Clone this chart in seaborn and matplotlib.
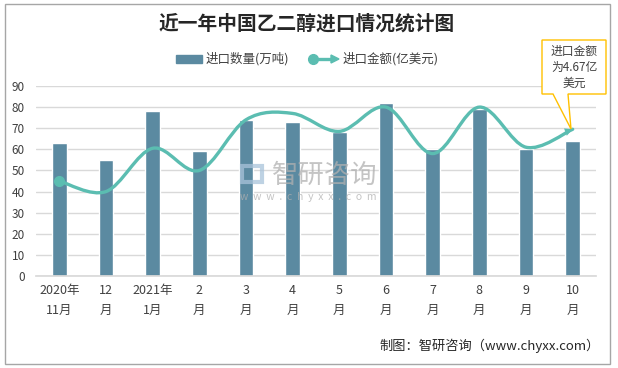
import numpy as np
import pandas as pd
import seaborn as sns
import matplotlib.pyplot as plt
from matplotlib.path import Path
from matplotlib.patches import PathPatch, Rectangle, Polygon
from matplotlib.lines import Line2D

# --- data ---
months = ['2020年\n11月', '12\n月', '2021年\n1月', '2\n月', '3\n月', '4\n月',
          '5\n月', '6\n月', '7\n月', '8\n月', '9\n月', '10\n月']
volume = [63, 55, 78, 59, 74, 73, 68, 82, 60, 79, 60, 64]          # 进口数量(万吨)
amount_plot = [45, 40, 60.5, 50, 74, 77, 68.5, 80, 58, 80, 61, 69.5]  # 进口金额 as drawn

BAR_C = '#5B8AA1'
LINE_C = '#5BBDB1'

sns.set_theme(style='white')
plt.rcParams['font.family'] = ['Noto Sans CJK SC', 'DejaVu Sans']

fig = plt.figure(figsize=(6.18, 3.68), dpi=100)
W, H = 618, 368
ax = fig.add_axes([36 / W, (H - 276) / H, 560 / W, 190 / H])

df = pd.DataFrame({'month': months, 'volume': volume})
sns.barplot(data=df, x='month', y='volume', color=BAR_C, width=0.32,
            saturation=1, ax=ax, zorder=2)

# smoothed line as cubic bezier (excel-style smoothing)
x = np.arange(len(amount_plot), dtype=float)
y = np.array(amount_plot, dtype=float)
pts = np.column_stack([x, y])
verts = [pts[0]]
codes = [Path.MOVETO]
n = len(pts)
for i in range(n - 1):
    p0 = pts[max(i - 1, 0)]
    p1 = pts[i]
    p2 = pts[i + 1]
    p3 = pts[min(i + 2, n - 1)]
    c1 = p1 + (p2 - p0) / 6
    c2 = p2 - (p3 - p1) / 6
    verts += [c1, c2, p2]
    codes += [Path.CURVE4] * 3
ax.add_patch(PathPatch(Path(verts, codes), fill=False, edgecolor=LINE_C,
                       lw=2.4, zorder=3, capstyle='round'))
ax.plot(x[0], y[0], 'o', color=LINE_C, ms=7, zorder=4)
ax.annotate('', xy=(x[-1], y[-1]), xytext=tuple(verts[-2]),
            arrowprops=dict(arrowstyle='-|>', color=LINE_C, lw=0,
                            mutation_scale=14, shrinkA=0, shrinkB=0), zorder=4)

ax.set_xlim(-0.5, 11.5)
ax.set_ylim(0, 90)
ax.set_yticks(range(0, 91, 10))
ax.yaxis.grid(True, color='#D9D9D9', lw=1)
ax.set_axisbelow(True)
for s in ['top', 'right', 'left']:
    ax.spines[s].set_visible(False)
ax.spines['bottom'].set_color('#D9D9D9')
ax.set_xlabel('')
ax.set_ylabel('')
ax.tick_params(axis='y', labelsize=8.5, colors='#404040', pad=8, length=0)
ax.tick_params(axis='x', labelsize=9, colors='#404040', pad=6, length=0)
for t in ax.get_xticklabels():
    t.set_linespacing(1.7)

# title, legend, source
fig.text(307 / W, 1 - 24 / H, '近一年中国乙二醇进口情况统计图', ha='center', va='center',
         fontsize=14.2, fontweight='bold', color='#262626')
fig.patches.append(Rectangle((176 / W, 1 - 63 / H), 26 / W, 8 / H,
                             transform=fig.transFigure, color=BAR_C))
fig.text(206 / W, 1 - 59 / H, '进口数量(万吨)', va='center', fontsize=9, color='#404040')
fig.lines.append(Line2D([313 / W, 334 / W], [1 - 59 / H] * 2, transform=fig.transFigure,
                        color=LINE_C, lw=2.4))
fig.lines.append(Line2D([313 / W], [1 - 59 / H], transform=fig.transFigure,
                        marker='o', ms=7, color=LINE_C))
fig.patches.append(Polygon([(339 / W, 1 - 59 / H), (331 / W, 1 - 55 / H), (331 / W, 1 - 63 / H)],
                           closed=True, transform=fig.transFigure, color=LINE_C))
fig.text(343 / W, 1 - 59 / H, '进口金额(亿美元)', va='center', fontsize=9, color='#404040')
fig.text(600 / W, 1 - 346 / H, '制图：智研咨询（www.chyxx.com）', ha='right', va='center',
         fontsize=9.5, color='#262626')

# watermark
fig.text(325 / W, 1 - 175 / H, '智研咨询', ha='center', va='center', fontsize=19,
         color='#B0B0B0', alpha=0.75)
fig.text(308 / W, 1 - 197 / H, 'w  w  w  .  c  h  y  x  x  .  c  o  m', ha='center',
         va='center', fontsize=7.5, color='#B0B0B0', alpha=0.75)
fig.patches.append(Rectangle((242 / W, 1 - 182 / H), 20 / W, 16 / H, transform=fig.transFigure,
                             fill=False, edgecolor='#A9C3DA', lw=3, alpha=0.75))

# callout
fig.patches.append(Polygon([(542 / W, 1 - 40 / H), (606 / W, 1 - 40 / H), (606 / W, 1 - 94 / H),
                            (568 / W, 1 - 94 / H), (571 / W, 1 - 129 / H), (553 / W, 1 - 94 / H),
                            (542 / W, 1 - 94 / H)], closed=True, transform=fig.transFigure,
                           facecolor='white', edgecolor='#FFC000', lw=1, zorder=5))
fig.text(574 / W, 1 - 67 / H, '进口金额\n为4.67亿\n美元', ha='center', va='center',
         fontsize=8.5, color='#404040', linespacing=1.3, zorder=6)

# outer frame
fig.patches.append(Rectangle((5 / W, 4 / H), 605 / W, 360 / H, transform=fig.transFigure,
                             fill=False, edgecolor='#A6A6A6', lw=1))

fig.savefig('out.png', dpi=100)
